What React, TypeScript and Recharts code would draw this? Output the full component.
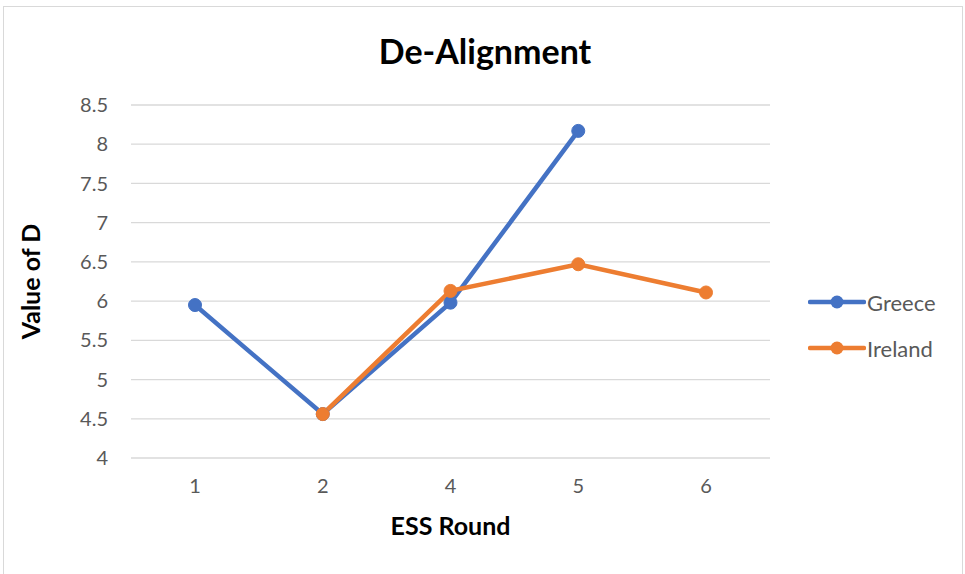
import React from 'react';
import {
  LineChart,
  Line,
  XAxis,
  YAxis,
  CartesianGrid,
  Legend,
  Label,
} from 'recharts';

const rounds = ['1', '2', '4', '5', '6'];
const greece: (number | null)[] = [5.95, 4.56, 5.98, 8.17, null];
const ireland: (number | null)[] = [null, 4.56, 6.13, 6.47, 6.11];
const yTicks = [4, 4.5, 5, 5.5, 6, 6.5, 7, 7.5, 8, 8.5];

const data = rounds.map((r, i) => ({
  round: r,
  Greece: greece[i],
  Ireland: ireland[i],
}));

const FONT = 'Lato, "Open Sans", sans-serif';
const GREY = '#595959';

function LegendBox({ payload }: { payload?: ReadonlyArray<{ value: string; color: string }> }) {
  return (
    <div style={{ fontFamily: FONT }}>
      {(payload ?? []).map((p) => (
        <div key={p.value} style={{ display: 'flex', alignItems: 'center', height: 46 }}>
          <svg width={58} height={16}>
            <line x1={2} y1={8} x2={56} y2={8} stroke={p.color} strokeWidth={4.5} strokeLinecap="round" />
            <circle cx={29} cy={8} r={6.5} fill={p.color} />
          </svg>
          <span style={{ fontSize: 22, color: GREY, marginLeft: 1 }}>{p.value}</span>
        </div>
      ))}
    </div>
  );
}

export default function App() {
  return (
    <div style={{ position: 'absolute', left: 0, top: 0, width: 965, height: 574, background: '#fff', overflow: 'hidden' }}>
      <div
        style={{
          position: 'absolute',
          left: 3,
          top: 6,
          width: 958,
          height: 600,
          border: '1px solid #d9d9d9',
        }}
      />
      <div
        style={{
          position: 'absolute',
          left: 0,
          width: 970,
          top: 29,
          textAlign: 'center',
          fontFamily: FONT,
          fontWeight: 700,
          fontSize: 34,
          lineHeight: '44px',
          color: '#000',
        }}
      >
        De-Alignment
      </div>
      <div style={{ position: 'absolute', left: 0, top: 0 }}>
        <LineChart
          width={965}
          height={574}
          data={data}
          margin={{ top: 105, right: 45, bottom: 0, left: 0 }}
        >
          <CartesianGrid vertical={false} stroke="#d9d9d9" strokeWidth={1.3} />
          <XAxis
            dataKey="round"
            axisLine={false}
            tickLine={false}
            tickSize={0}
            tickMargin={21}
            padding={{ left: 64, right: 64 }}
            tick={{ fill: GREY, fontSize: 20, fontFamily: FONT }}
            height={116}
          >
            <Label
              value="ESS Round"
              position="insideTop"
              offset={59}
              style={{ fill: '#000', fontWeight: 700, fontSize: 25, fontFamily: FONT }}
            />
          </XAxis>
          <YAxis
            domain={[4, 8.5]}
            ticks={yTicks}
            axisLine={false}
            tickLine={false}
            tickSize={0}
            tickMargin={23}
            width={131}
            tick={{ fill: GREY, fontSize: 20, fontFamily: FONT }}
          >
            <Label
              value="Value of D"
              angle={-90}
              position="insideLeft"
              offset={31}
              style={{ fill: '#000', fontWeight: 700, fontSize: 25, fontFamily: FONT, textAnchor: 'middle' }}
            />
          </YAxis>
          <Legend
            layout="vertical"
            align="right"
            verticalAlign="middle"
            content={(props: any) => <LegendBox payload={props.payload} />}
            wrapperStyle={{ left: 808, top: 279, width: 150 }}
          />
          <Line
            dataKey="Greece"
            stroke="#4472C4"
            strokeWidth={4.5}
            dot={{ r: 6.5, fill: '#4472C4', stroke: '#4472C4', strokeWidth: 1 }}
            activeDot={false}
            isAnimationActive={false}
          />
          <Line
            dataKey="Ireland"
            stroke="#ED7D31"
            strokeWidth={4.5}
            dot={{ r: 6.5, fill: '#ED7D31', stroke: '#ED7D31', strokeWidth: 1 }}
            activeDot={false}
            isAnimationActive={false}
          />
        </LineChart>
      </div>
    </div>
  );
}
